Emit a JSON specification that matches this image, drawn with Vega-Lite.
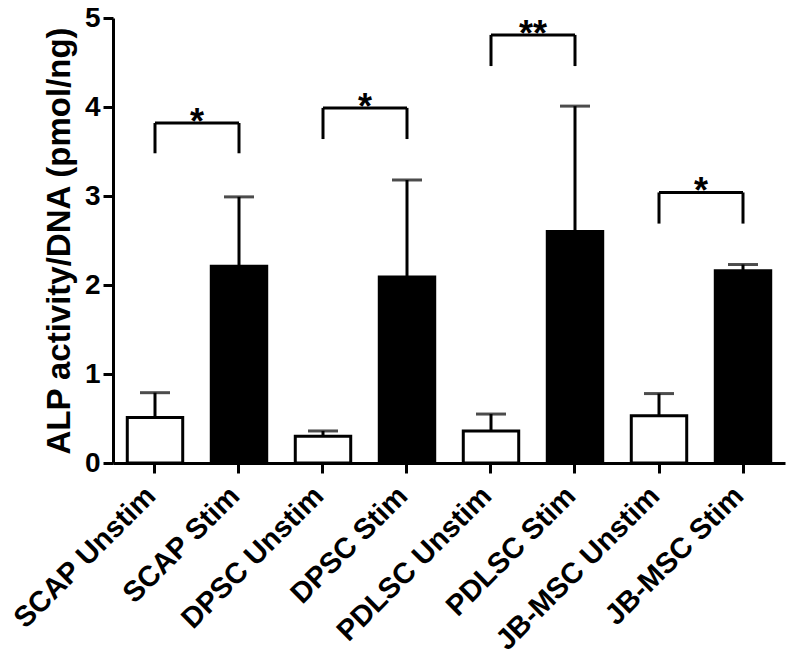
{
  "$schema": "https://vega.github.io/schema/vega-lite/v6.json",
  "autosize": "none",
  "width": 672,
  "height": 445,
  "padding": {"left": 113, "top": 18, "right": 1, "bottom": 208},
  "background": "white",
  "config": {
    "view": {"stroke": null},
    "font": "Liberation Sans",
    "axis": {
      "domainColor": "black", "domainWidth": 3, "tickColor": "black", "tickWidth": 3, "tickSize": 10,
      "labelColor": "black", "labelFont": "Liberation Sans", "labelFontWeight": "bold",
      "titleColor": "black", "titleFont": "Liberation Sans", "titleFontWeight": "bold", "grid": false
    }
  },
  "datasets": {
    "bars": [
      {"label": "SCAP Unstim", "cond": "Unstim", "mean": 0.51, "upper": 0.79},
      {"label": "SCAP Stim", "cond": "Stim", "mean": 2.21, "upper": 2.99},
      {"label": "DPSC Unstim", "cond": "Unstim", "mean": 0.30, "upper": 0.36},
      {"label": "DPSC Stim", "cond": "Stim", "mean": 2.09, "upper": 3.18},
      {"label": "PDLSC Unstim", "cond": "Unstim", "mean": 0.36, "upper": 0.55},
      {"label": "PDLSC Stim", "cond": "Stim", "mean": 2.60, "upper": 4.01},
      {"label": "JB-MSC Unstim", "cond": "Unstim", "mean": 0.53, "upper": 0.78},
      {"label": "JB-MSC Stim", "cond": "Stim", "mean": 2.16, "upper": 2.23}
    ],
    "brackets": [
      {"from": "SCAP Unstim", "to": "SCAP Stim", "top": 3.82, "stars": "*"},
      {"from": "DPSC Unstim", "to": "DPSC Stim", "top": 3.99, "stars": "*"},
      {"from": "PDLSC Unstim", "to": "PDLSC Stim", "top": 4.81, "stars": "**"},
      {"from": "JB-MSC Unstim", "to": "JB-MSC Stim", "top": 3.04, "stars": "*"}
    ],
    "legs": [
      {"label": "SCAP Unstim", "low": 3.48, "top": 3.82},
      {"label": "SCAP Stim", "low": 3.48, "top": 3.82},
      {"label": "DPSC Unstim", "low": 3.64, "top": 3.99},
      {"label": "DPSC Stim", "low": 3.64, "top": 3.99},
      {"label": "PDLSC Unstim", "low": 4.46, "top": 4.81},
      {"label": "PDLSC Stim", "low": 4.46, "top": 4.81},
      {"label": "JB-MSC Unstim", "low": 2.69, "top": 3.04},
      {"label": "JB-MSC Stim", "low": 2.69, "top": 3.04}
    ]
  },
  "encoding": {
    "x": {
      "field": "label", "type": "nominal",
      "scale": {
        "domain": ["SCAP Unstim", "SCAP Stim", "DPSC Unstim", "DPSC Stim", "PDLSC Unstim", "PDLSC Stim", "JB-MSC Unstim", "JB-MSC Stim"],
        "paddingInner": 0.34, "paddingOuter": 0.17
      },
      "axis": {"title": null, "labelAngle": -45, "labelAlign": "right", "labelBaseline": "top", "labelFontSize": 29, "labelPadding": 8, "labelOffset": -14, "labelLimit": 400}
    }
  },
  "layer": [
    {
      "data": {"name": "bars"},
      "mark": {"type": "rule", "stroke": "black", "strokeWidth": 3},
      "encoding": {
        "y": {"field": "mean", "type": "quantitative"},
        "y2": {"field": "upper"}
      }
    },
    {
      "data": {"name": "bars"},
      "mark": {"type": "tick", "color": "black", "size": 30, "thickness": 3},
      "encoding": {
        "y": {"field": "upper", "type": "quantitative"}
      }
    },
    {
      "data": {"name": "bars"},
      "mark": {"type": "bar", "stroke": "black", "strokeWidth": 3},
      "encoding": {
        "y": {
          "field": "mean", "type": "quantitative",
          "scale": {"domain": [0, 5], "nice": false},
          "axis": {"title": "ALP activity/DNA (pmol/ng)", "values": [0, 1, 2, 3, 4, 5], "format": "d", "labelFontSize": 28, "labelPadding": 3, "titleFontSize": 33, "titlePadding": 8}
        },
        "fill": {"field": "cond", "type": "nominal", "scale": {"domain": ["Unstim", "Stim"], "range": ["white", "black"]}, "legend": null}
      }
    },
    {
      "data": {"name": "brackets"},
      "mark": {"type": "rule", "stroke": "black", "strokeWidth": 3},
      "encoding": {
        "x": {"field": "from", "type": "nominal"},
        "x2": {"field": "to"},
        "y": {"field": "top", "type": "quantitative"}
      }
    },
    {
      "data": {"name": "legs"},
      "mark": {"type": "rule", "stroke": "black", "strokeWidth": 3},
      "encoding": {
        "y": {"field": "low", "type": "quantitative"},
        "y2": {"field": "top"}
      }
    },
    {
      "data": {"name": "brackets"},
      "mark": {"type": "text", "fontSize": 36, "fontWeight": "bold", "color": "black", "baseline": "alphabetic", "align": "center", "dx": 42, "dy": 11},
      "encoding": {
        "x": {"field": "from", "type": "nominal"},
        "y": {"field": "top", "type": "quantitative"},
        "text": {"field": "stars"}
      }
    }
  ]
}
